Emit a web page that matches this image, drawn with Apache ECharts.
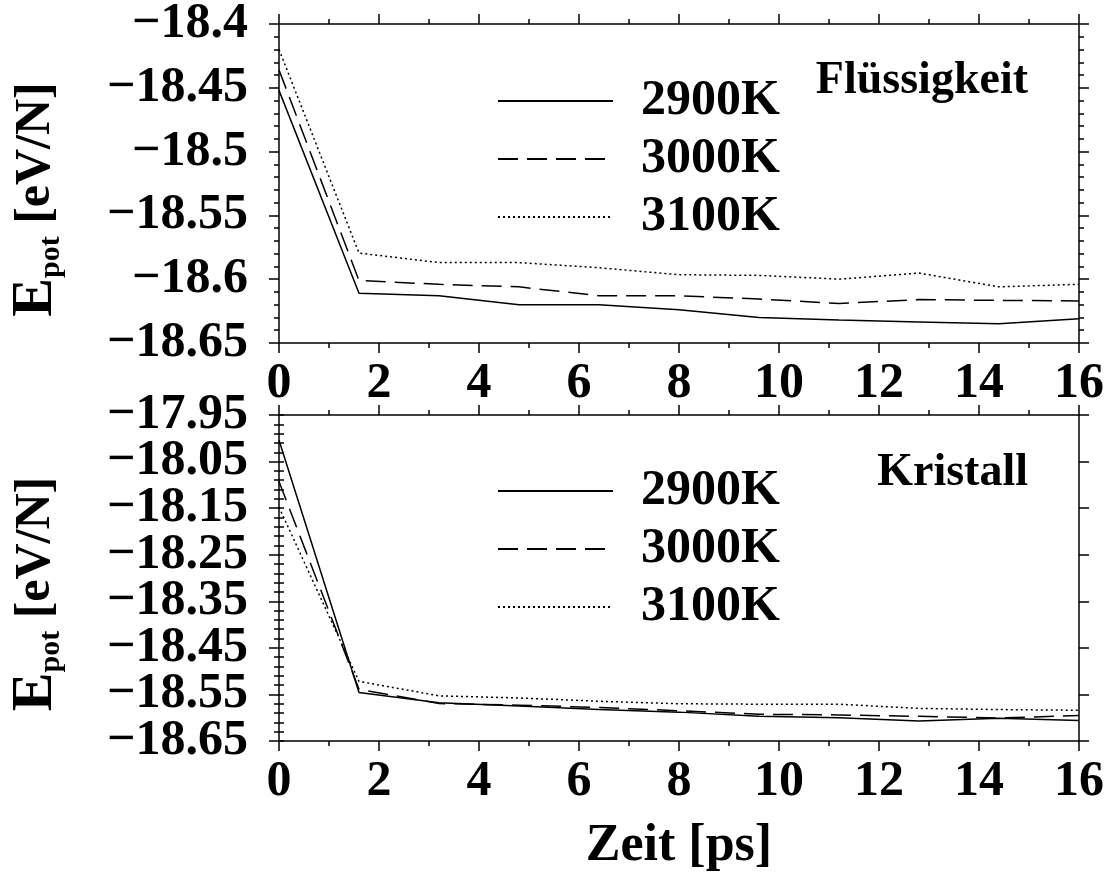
<!DOCTYPE html>
<html>
<head>
<meta charset="utf-8">
<script src="https://cdn.jsdelivr.net/npm/echarts@6/dist/echarts.min.js"></script>
<style>
  html, body { margin: 0; padding: 0; background: #fff; }
  #chart { width: 1109px; height: 873px; }
</style>
</head>
<body>
<div id="chart"></div>
<script>
// Simulation time [ps]
const time = [0, 1.6, 3.2, 4.8, 6.4, 8, 9.6, 11.2, 12.8, 14.4, 16];

// Potential energy per atom, liquid start configuration [eV/N]
const liq2900 = [-18.452, -18.611, -18.613, -18.620, -18.620, -18.624, -18.630, -18.632, -18.6335, -18.635, -18.631];
const liq3000 = [-18.436, -18.601, -18.604, -18.606, -18.613, -18.613, -18.6155, -18.619, -18.616, -18.6166, -18.617];
const liq3100 = [-18.420, -18.5795, -18.587, -18.587, -18.591, -18.5965, -18.597, -18.600, -18.5952, -18.606, -18.604];

// Potential energy per atom, crystal start configuration [eV/N]
const cry2900 = [-18.004, -18.546, -18.568, -18.575, -18.5825, -18.588, -18.597, -18.600, -18.607, -18.601, -18.606];
const cry3000 = [-18.093, -18.539, -18.5696, -18.573, -18.578, -18.585, -18.5926, -18.594, -18.597, -18.6005, -18.5954];
const cry3100 = [-18.148, -18.522, -18.553, -18.5576, -18.5647, -18.570, -18.571, -18.571, -18.580, -18.5825, -18.584];

const temps = ['2900K', '3000K', '3100K'];

// Axis ticks
const xTicks = [0, 2, 4, 6, 8, 10, 12, 14, 16];
const topYTicks = [-18.65, -18.6, -18.55, -18.5, -18.45, -18.4];
const botYTicks = [-18.65, -18.55, -18.45, -18.35, -18.25, -18.15, -18.05, -17.95];
const botYMinor = [];
for (let i = 0; i <= 35; i++) botYMinor.push(+(-18.65 + i * 0.02).toFixed(2));
// the bottom labels sit close together, so they are split over two label layers
const botYLabelsA = botYTicks.filter((v, i) => i % 2 === 0);
const botYLabelsB = botYTicks.filter((v, i) => i % 2 === 1);

const FONT = '"Liberation Serif", "Times New Roman", serif';
const INK = '#000';

const pairs = arr => time.map((t, i) => [t, arr[i]]);
const fmtY = v => '\u2212' + String(+Math.abs(v).toFixed(2));

const dashStyles = ['solid', [20, 9], [2, 3]];

function lineSeries(name, arr, idx, axisIdx) {
  return {
    name: name,
    type: 'line',
    xAxisIndex: axisIdx,
    yAxisIndex: axisIdx,
    data: pairs(arr),
    symbol: 'none',
    lineStyle: { color: INK, width: 1.5, type: dashStyles[idx] },
    itemStyle: { color: INK },
    animation: false
  };
}

const axisLine = { show: true, onZero: false, lineStyle: { color: INK, width: 1.5 } };
const tickStyle = { color: INK, width: 1.5 };
const labelFont = {
  fontFamily: FONT, fontWeight: 'bold', fontSize: 50, lineHeight: 40, color: INK,
  showMinLabel: true, showMaxLabel: true, hideOverlap: false
};

function xAxisFor(grid, position, showLabel) {
  return {
    type: 'value', gridIndex: grid, position: position,
    min: 0, max: 16, interval: 2,
    axisLine: axisLine,
    axisTick: { show: true, length: 10, lineStyle: tickStyle },
    minorTick: { show: true, splitNumber: 2, length: 5, lineStyle: tickStyle },
    splitLine: { show: false },
    axisLabel: Object.assign({ show: showLabel, margin: 21 }, labelFont)
  };
}

const yName = '{e|E}{s|pot}{b| [eV/N]}';
const yNameStyle = {
  fontFamily: FONT, fontWeight: 'bold', color: INK,
  padding: [0, 32, 0, 0],
  rich: {
    e: { fontFamily: FONT, fontWeight: 'bold', fontSize: 58, color: INK, lineHeight: 60 },
    s: { fontFamily: FONT, fontWeight: 'bold', fontSize: 30, color: INK, lineHeight: 26, verticalAlign: 'bottom' },
    b: { fontFamily: FONT, fontWeight: 'bold', fontSize: 50, color: INK, lineHeight: 60 }
  }
};

const yAxes = [
  // top panel, left
  {
    type: 'value', gridIndex: 0, position: 'left',
    min: -18.65, max: -18.4, interval: 0.05,
    axisLine: axisLine,
    axisTick: { show: true, length: 10, lineStyle: tickStyle },
    minorTick: { show: true, splitNumber: 5, length: 5, lineStyle: tickStyle },
    splitLine: { show: false },
    axisLabel: Object.assign({ margin: 31, formatter: fmtY }, labelFont),
    name: yName, nameLocation: 'middle', nameRotate: 90, nameGap: 213,
    nameTextStyle: yNameStyle
  },
  // bottom panel, left (major ticks, first label layer)
  {
    type: 'value', gridIndex: 1, position: 'left',
    min: -18.65, max: -17.95,
    axisLine: axisLine,
    axisTick: { show: true, length: 10, lineStyle: tickStyle, customValues: botYTicks },
    splitLine: { show: false },
    axisLabel: Object.assign({ margin: 31, formatter: fmtY, customValues: botYLabelsA }, labelFont),
    name: yName, nameLocation: 'middle', nameRotate: 90, nameGap: 213,
    nameTextStyle: yNameStyle
  },
  // top panel, right mirror
  {
    type: 'value', gridIndex: 0, position: 'right',
    min: -18.65, max: -18.4, interval: 0.05,
    axisLine: axisLine,
    axisTick: { show: true, length: 10, lineStyle: tickStyle },
    minorTick: { show: true, splitNumber: 5, length: 5, lineStyle: tickStyle },
    splitLine: { show: false },
    axisLabel: { show: false }
  },
  // bottom panel, right mirror
  {
    type: 'value', gridIndex: 1, position: 'right',
    min: -18.65, max: -17.95,
    axisLine: axisLine,
    axisTick: { show: true, length: 10, lineStyle: tickStyle, customValues: botYTicks },
    splitLine: { show: false },
    axisLabel: { show: false, customValues: botYTicks }
  },
  // bottom panel, left minor ticks and second label layer
  {
    type: 'value', gridIndex: 1, position: 'left',
    min: -18.65, max: -17.95,
    axisLine: { show: false },
    axisTick: { show: true, length: 5, lineStyle: tickStyle, customValues: botYMinor },
    splitLine: { show: false },
    axisLabel: Object.assign({ margin: 31, formatter: fmtY, customValues: botYLabelsB }, labelFont)
  },
  // bottom panel, right minor ticks
  {
    type: 'value', gridIndex: 1, position: 'right',
    min: -18.65, max: -17.95,
    axisLine: { show: false },
    axisTick: { show: true, length: 5, lineStyle: tickStyle, customValues: botYMinor },
    splitLine: { show: false },
    axisLabel: { show: false, customValues: botYMinor }
  }
];

const xAxes = [
  xAxisFor(0, 'bottom', true),
  Object.assign(xAxisFor(1, 'bottom', true), {
    name: 'Zeit [ps]', nameLocation: 'middle', nameGap: 80,
    nameTextStyle: { fontFamily: FONT, fontWeight: 'bold', fontSize: 52, color: INK }
  }),
  xAxisFor(0, 'top', false),
  xAxisFor(1, 'top', false)
];

const legendCommon = {
  orient: 'vertical',
  left: 497,
  padding: 0,
  itemWidth: 115,
  itemHeight: 14,
  itemGap: 8,
  data: temps,
  itemStyle: { opacity: 0 },
  textStyle: { fontFamily: FONT, fontWeight: 'bold', fontSize: 50, lineHeight: 50, color: INK, padding: [0, 0, 0, 23] },
  selectedMode: false
};

const option = {
  backgroundColor: '#fff',
  animation: false,
  grid: [
    { left: 279, right: 30, top: 24, height: 319, outerBoundsMode: 'none', containLabel: false },
    { left: 279, right: 30, top: 415, height: 326, outerBoundsMode: 'none', containLabel: false }
  ],
  xAxis: xAxes,
  yAxis: yAxes,
  legend: [
    Object.assign({}, legendCommon, { top: 76 }),
    Object.assign({}, legendCommon, { top: 466 })
  ],
  title: [
    { text: 'Flüssigkeit', right: 81, top: 58, padding: 0,
      textStyle: { fontFamily: FONT, fontWeight: 'bold', fontSize: 46, color: INK } },
    { text: 'Kristall', right: 81, top: 450, padding: 0,
      textStyle: { fontFamily: FONT, fontWeight: 'bold', fontSize: 46, color: INK } }
  ],
  series: [
    lineSeries(temps[0], liq2900, 0, 0),
    lineSeries(temps[1], liq3000, 1, 0),
    lineSeries(temps[2], liq3100, 2, 0),
    lineSeries(temps[0], cry2900, 0, 1),
    lineSeries(temps[1], cry3000, 1, 1),
    lineSeries(temps[2], cry3100, 2, 1)
  ]
};

const chart = echarts.init(document.getElementById('chart'), null, { renderer: 'canvas' });
chart.setOption(option);
</script>
</body>
</html>
